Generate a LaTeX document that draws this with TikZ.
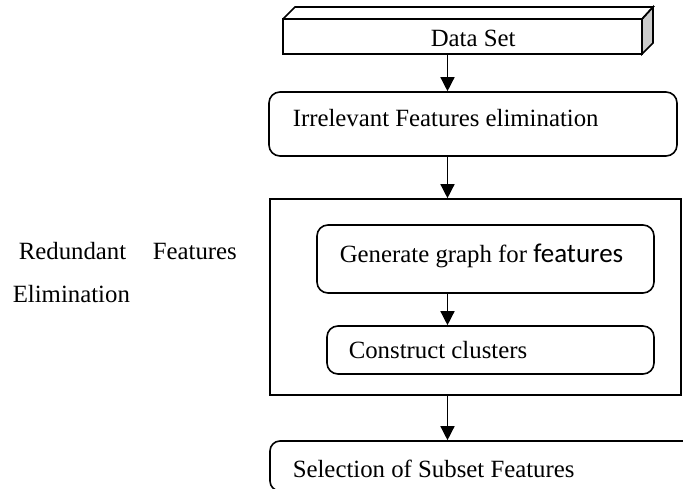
\documentclass[tikz,border=0pt]{standalone}
\usepackage{fontspec}
\setmainfont{Liberation Serif}
\newfontfamily\calib{Carlito}
\usetikzlibrary{arrows.meta,calc}
\begin{document}
\begin{tikzpicture}[x=1pt,y=-1pt,
  line width=1.6pt,
  lbl/.style={anchor=base west,inner sep=0pt,font=\fontsize{24.8}{30}\selectfont},
  rbox/.style={draw,rounded corners=11pt,inner sep=0pt},
  sbox/.style={draw,inner sep=0pt},
  arr/.style={-{Triangle[width=14pt,length=14pt]},line width=1.4pt}]
\useasboundingbox (0,0) rectangle (683,489);
\clip (0,0) rectangle (683,489);
% Data Set 3D box
\filldraw[fill=black!20] (642,19) -- (653,7) -- (653,43) -- (642,54) -- cycle;
\draw (283,19) -- (295,7) -- (653,7) -- (642,19);
\node[sbox,minimum width=359pt,minimum height=35pt] (ds) at (462.5,36.5) {};
\node[lbl] (dst) at (430,47) {Data Set};
% Irrelevant
\node[rbox,minimum width=408pt,minimum height=64pt] (ir) at (473,124) {};
\node[lbl] (irt) at (292,127) {Irrelevant Features elimination};
% Outer
\node[sbox,minimum width=411pt,minimum height=196pt] (out) at (475.5,297) {};
% Generate
\node[rbox,minimum width=337pt,minimum height=68pt] (gen) at (485.5,259) {};
\node[lbl] (gent) at (339,263) {Generate graph for {\calib\fontsize{27}{30}\selectfont features}};
% Construct
\node[rbox,minimum width=327pt,minimum height=48pt] (con) at (490.5,350) {};
\node[lbl] (cont) at (348,358) {Construct clusters};
% Selection
\node[rbox,rounded corners=10pt,minimum width=440pt,minimum height=50pt] (sel) at (490,466) {};
\node[lbl] (selt) at (292,477) {Selection of Subset Features};
% Left label
\node[lbl] (r1) at (18,260) {Redundant};
\node[lbl] (r2) at (152,260) {Features};
\node[lbl] (r3) at (12,302) {Elimination};
% Arrows
\coordinate (ax) at (447.5,0);
\draw[arr] (ds.south -| ax) -- (ir.north -| ax);
\draw[arr] (ir.south -| ax) -- (out.north -| ax);
\draw[arr] (gen.south -| ax) -- (con.north -| ax);
\draw[arr] (out.south -| ax) -- (sel.north -| ax);
\end{tikzpicture}
\end{document}
